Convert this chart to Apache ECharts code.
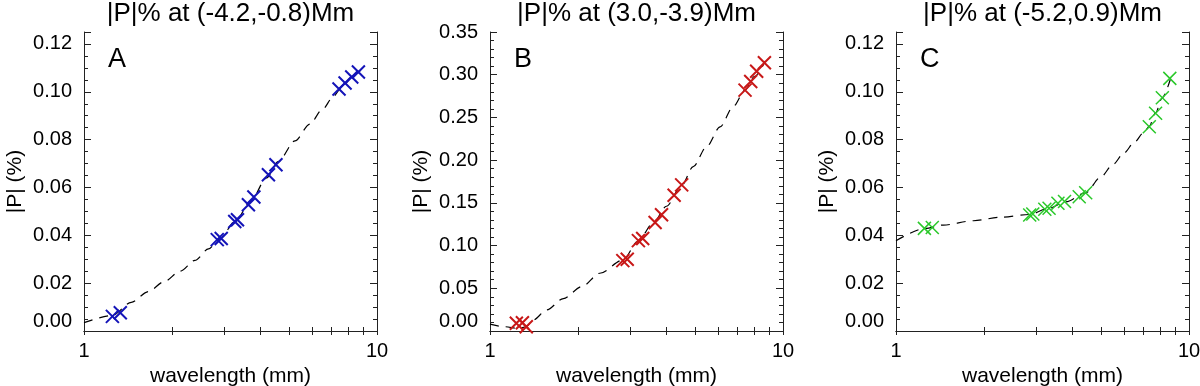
<!DOCTYPE html>
<html lang="en">
<head>
<meta charset="UTF-8">
<title>|P|% vs wavelength</title>
<script src="https://cdn.jsdelivr.net/npm/echarts@6/dist/echarts.min.js"></script>
<style>body{margin:0;background:#fff}</style>
</head>
<body>
<div id="main" style="width:1200px;height:386px"></div>
<script>
var titles = ['|P|% at (-4.2,-0.8)Mm', '|P|% at (3.0,-3.9)Mm', '|P|% at (-5.2,0.9)Mm'];
var letters = ['A', 'B', 'C'];
var colors = ['#1414b8', '#c81818', '#2ac82a'];
var xLabels = [1, 10];
var xTickVals = [1, 2, 3, 4, 5, 6, 7, 8, 9, 10];

// panel A
var waveA = [1.25, 1.33, 2.85, 2.94, 3.27, 3.34, 3.64, 3.80, 4.26, 4.52, 7.42, 7.78, 8.20, 8.64];
var polA = [0.0061, 0.0076, 0.0382, 0.0387, 0.0458, 0.0465, 0.0528, 0.0560, 0.0653, 0.0695, 0.1012, 0.1037, 0.1062, 0.1083];
var fitWaveA = [1.0, 1.25, 1.45, 1.66, 1.87, 2.13, 2.39, 2.66, 2.9, 3.3, 3.7, 4.2, 4.6, 5.25, 5.9, 6.5, 7.1, 7.5, 8.2, 8.8];
var fitPolA = [0.0035, 0.0065, 0.0120, 0.0165, 0.0205, 0.0250, 0.0295, 0.0343, 0.0385, 0.0462, 0.0542, 0.0640, 0.0708, 0.0795, 0.0865, 0.0925, 0.0980, 0.1012, 0.1060, 0.1092];

// panel B
var waveB = [1.23, 1.29, 1.33, 2.84, 2.94, 3.21, 3.32, 3.66, 3.85, 4.25, 4.51, 7.42, 7.76, 8.13, 8.64];
var polB = [0.009, 0.0097, 0.005, 0.0824, 0.084, 0.1058, 0.1082, 0.127, 0.136, 0.159, 0.171, 0.282, 0.292, 0.304, 0.314];
var fitWaveB = [1.0, 1.12, 1.25, 1.33, 1.405, 1.56, 1.78, 2.06, 2.37, 2.84, 3.2, 3.6, 4.0, 4.5, 4.94, 5.49, 6.1, 6.77, 7.42, 8.0, 8.7];
var fitPolB = [0.008, 0.005, 0.003, 0.005, 0.0129, 0.0246, 0.038, 0.052, 0.0676, 0.083, 0.105, 0.126, 0.146, 0.170, 0.1925, 0.216, 0.239, 0.263, 0.282, 0.298, 0.316];

// panel C
var waveC = [1.25, 1.33, 2.86, 2.93, 3.22, 3.33, 3.57, 3.76, 4.22, 4.44, 7.32, 7.69, 8.11, 8.60];
var polC = [0.0429, 0.0433, 0.0485, 0.0489, 0.0509, 0.0513, 0.0534, 0.0541, 0.0561, 0.0578, 0.0854, 0.0910, 0.0975, 0.1056];
var fitWaveC = [1.0, 1.25, 1.45, 1.84, 2.26, 2.86, 3.3, 3.8, 4.44, 5.0, 5.5, 6.0, 6.5, 7.0, 7.32, 7.69, 8.1, 8.7];
var fitPolC = [0.0377, 0.0428, 0.0443, 0.0461, 0.0475, 0.0487, 0.0512, 0.0540, 0.0578, 0.0644, 0.0696, 0.0744, 0.0788, 0.0829, 0.0856, 0.0912, 0.0975, 0.1065];

var yMax = [0.125, 0.35, 0.125];
var yStep = [0.02, 0.05, 0.02];
var yMinorSplit = [4, 5, 4];

var waves = [waveA, waveB, waveC];
var pols = [polA, polB, polC];
var fitWaves = [fitWaveA, fitWaveB, fitWaveC];
var fitPols = [fitPolA, fitPolB, fitPolC];

var gridLeft = [84, 490, 896];
var gridTop = 32, gridW = 293, gridH = 299;
var font = 'Liberation Sans';
var axisColor = '#222';

var chartDom = document.getElementById('main');
var myChart = echarts.init(chartDom);

var grids = [], xAxes = [], yAxes = [], series = [], titleList = [], graphics = [];

function pairs(xs, ys) {
    var out = [];
    for (var k = 0; k < xs.length; k++) out.push([xs[k], ys[k]]);
    return out;
}

for (var i = 0; i < 3; i++) {
    grids.push({left: gridLeft[i], top: gridTop, width: gridW, height: gridH, outerBoundsMode: 'none'});
    titleList.push({
        text: titles[i], left: gridLeft[i] + gridW / 2, top: 1, textAlign: 'center', padding: 0,
        textStyle: {fontFamily: font, fontSize: 26, fontWeight: 'normal', color: '#000'}
    });
    graphics.push({
        type: 'text', left: gridLeft[i] + 24, top: 46,
        style: {text: letters[i], fontFamily: font, fontSize: 27, fill: '#000'}
    });
}

for (var j = 0; j < 6; j++) {
    var g = j % 3, isTop = j >= 3;
    xAxes.push({
        type: 'log', logBase: 10, gridIndex: g, min: 1, max: 10,
        position: isTop ? 'top' : 'bottom',
        axisLine: {show: true, lineStyle: {color: axisColor, width: 1}},
        axisTick: {show: true, inside: true, length: 4, customValues: xTickVals, lineStyle: {color: axisColor}},
        axisLabel: {show: !isTop, customValues: xLabels, margin: 10, fontFamily: font, fontSize: 20, color: '#000'},
        splitLine: {show: false},
        name: isTop ? '' : 'wavelength (mm)', nameLocation: 'middle', nameGap: 33,
        nameTextStyle: {fontFamily: font, fontSize: 21, color: '#000'}
    });
}

for (var j = 0; j < 6; j++) {
    var g = j % 3, isRight = j >= 3;
    yAxes.push({
        type: 'value', gridIndex: g, min: 0, max: yMax[g], interval: yStep[g],
        position: isRight ? 'right' : 'left',
        axisLine: {show: true, lineStyle: {color: axisColor, width: 1}},
        axisTick: {show: true, inside: true, length: 7, lineStyle: {color: axisColor}},
        minorTick: {show: true, splitNumber: yMinorSplit[g], length: 4, lineStyle: {color: axisColor}},
        axisLabel: {
            show: !isRight, margin: 12, fontFamily: font, fontSize: 20, color: '#000',
            showMaxLabel: g !== 1 ? false : true,
            verticalAlignMinLabel: 'bottom',
            formatter: function (v) { return v.toFixed(2); }
        },
        splitLine: {show: false},
        name: isRight ? '' : '|P| (%)', nameLocation: 'middle', nameGap: 58,
        nameTextStyle: {fontFamily: font, fontSize: 21, color: '#000'}
    });
}

for (var i = 0; i < 3; i++) {
    series.push({
        type: 'line', xAxisIndex: i, yAxisIndex: i, smooth: 0.3, smoothMonotone: 'x',
        showSymbol: false, silent: true, z: 2,
        lineStyle: {color: '#000', width: 1.2, type: [9, 7]},
        data: pairs(fitWaves[i], fitPols[i])
    });
    series.push({
        type: 'scatter', xAxisIndex: i, yAxisIndex: i, silent: true, z: 3,
        symbol: 'path://M0,0L10,10M10,0L0,10', symbolSize: 13,
        itemStyle: {color: 'none', borderColor: colors[i], borderWidth: i === 2 ? 1.5 : 2, opacity: 1},
        data: pairs(waves[i], pols[i])
    });
}

var option = {
    animation: false,
    backgroundColor: '#fff',
    title: titleList,
    grid: grids,
    xAxis: xAxes,
    yAxis: yAxes,
    graphic: graphics,
    series: series
};
myChart.setOption(option);
</script>
</body>
</html>
